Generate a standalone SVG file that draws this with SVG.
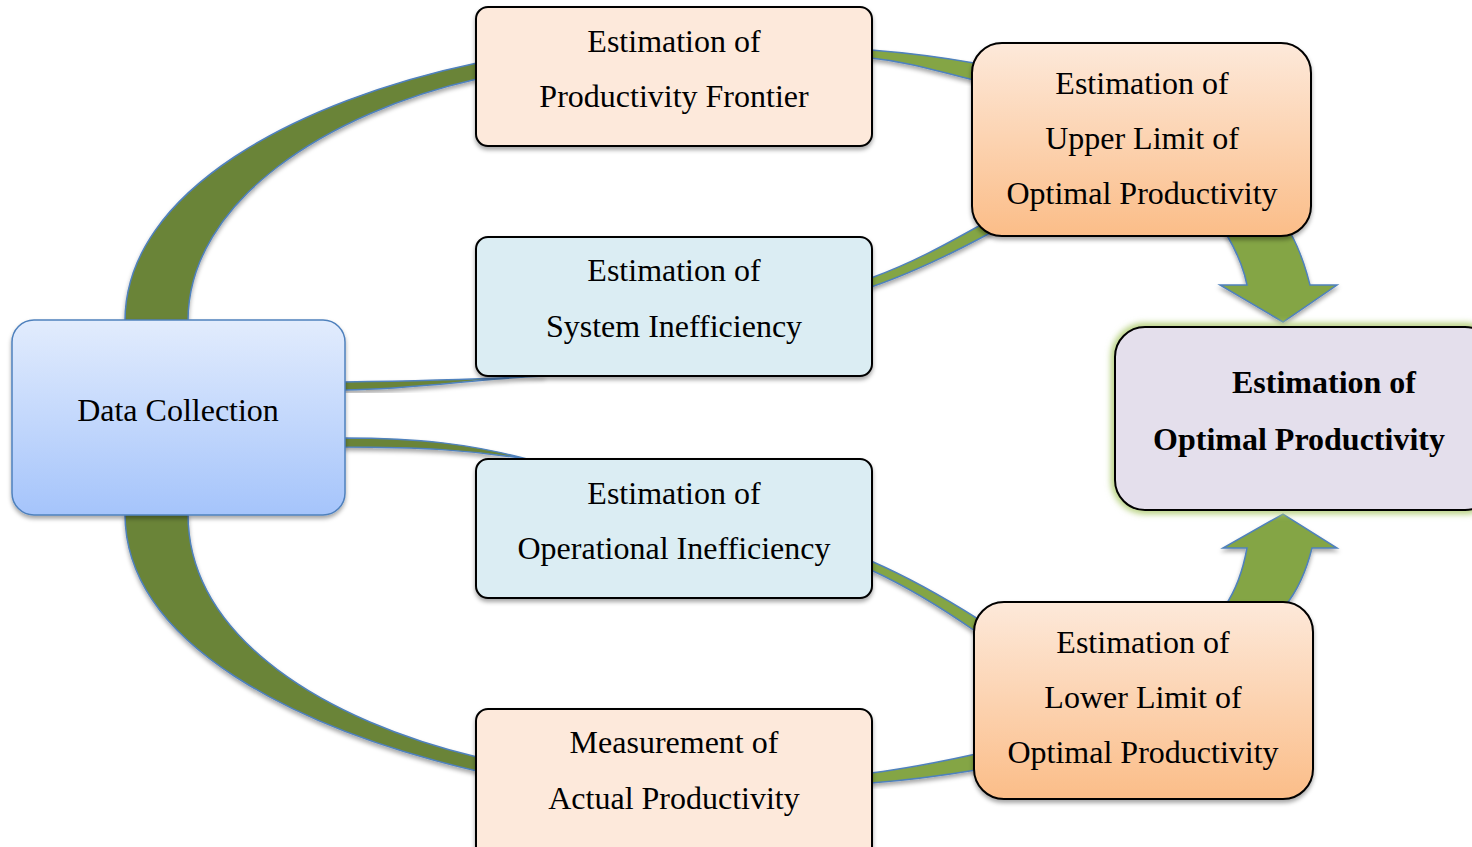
<svg xmlns="http://www.w3.org/2000/svg" width="1472" height="847" viewBox="0 0 1472 847">
  <defs>
    <linearGradient id="gBlue" x1="0" y1="0" x2="0" y2="1">
      <stop offset="0" stop-color="#e2ecfd"/>
      <stop offset="1" stop-color="#a5c4fb"/>
    </linearGradient>
    <linearGradient id="gOrange" x1="0" y1="0" x2="0" y2="1">
      <stop offset="0" stop-color="#fde9da"/>
      <stop offset="1" stop-color="#fbbd88"/>
    </linearGradient>
    <filter id="shadow" x="-10%" y="-10%" width="120%" height="130%">
      <feDropShadow dx="0" dy="3" stdDeviation="2.2" flood-color="#000" flood-opacity="0.35"/>
    </filter>
    <filter id="glow" x="-10%" y="-15%" width="120%" height="130%">
      <feGaussianBlur stdDeviation="3"/>
    </filter>
  </defs>
  <style>
    .lbl { font-family: "Liberation Serif", "Times New Roman", serif; font-size: 32px; fill: #000; text-anchor: middle; }
    .bold { font-weight: bold; font-size: 32px; }
    .box { stroke: #000; stroke-width: 2; filter: url(#shadow); }
    .peach { fill: #fde9db; }
    .cyan { fill: #dbedf3; }
    .band { fill: #6b8438; stroke: #4f81bd; stroke-width: 1.5; filter: url(#shadow); }
    .band2 { fill: #84a544; stroke: #4f81bd; stroke-width: 1.5; filter: url(#shadow); }
  </style>

  <!-- connectors -->
  <g id="connectors">
    <!-- Data Collection to Productivity Frontier -->
    <path class="band" d="M125,321 C125,190 300,100 477,63 L477,79 C330,112 188,200 188,321 Z"/>
    <!-- Data Collection to Actual Productivity -->
    <path class="band" d="M125,514 C125,645 300,730 477,771 L477,757 C330,722 188,640 188,514 Z"/>
    <!-- Data Collection to System Inefficiency -->
    <path class="band" d="M344,382 C420,381 470,380 545,376 C480,378 420,389 344,390 Z"/>
    <!-- Data Collection to Operational Inefficiency -->
    <path class="band" d="M344,438 C420,438 470,444 527,459 C470,450 420,447 344,447 Z"/>
    <!-- Productivity Frontier to Upper Limit -->
    <path class="band2" d="M871,50 C910,53 940,57 974,63 L974,80 C940,72 910,62 871,58 Z"/>
    <!-- System Inefficiency to Upper Limit -->
    <path class="band2" d="M871,278 C915,262 950,242 986,222 L992,232 C955,252 915,272 871,287 Z"/>
    <!-- Operational Inefficiency to Lower Limit -->
    <path class="band2" d="M871,561 C910,578 945,598 978,619 L975,631 C942,608 910,588 871,570 Z"/>
    <!-- Actual Productivity to Lower Limit -->
    <path class="band2" d="M871,773 C910,768 940,762 976,754 L976,770 C940,776 910,780 871,783 Z"/>
    <!-- Upper Limit down to Optimal Productivity -->
    <path class="band2" d="M1225,232 C1236,250 1243,265 1247,285 L1220,285 L1283,322 L1337,285 L1310,285 C1305,265 1300,250 1290,232 Z"/>
    <!-- Lower Limit up to Optimal Productivity -->
    <path class="band2" d="M1225,606 C1236,590 1243,570 1247,548 L1223,548 L1283,514 L1337,548 L1312,548 C1306,572 1298,590 1285,606 Z"/>
  </g>

  <g id="data-collection">
    <rect x="12" y="320" width="333" height="195" rx="22" fill="url(#gBlue)" stroke="#4f81bd" stroke-width="1.5" filter="url(#shadow)"/>
    <text class="lbl" x="178" y="421">Data Collection</text>
  </g>

  <g id="productivity-frontier">
    <rect class="box peach" x="476" y="7" width="396" height="139" rx="12"/>
    <text class="lbl" x="674" y="52">Estimation of</text>
    <text class="lbl" x="674" y="107">Productivity Frontier</text>
  </g>

  <g id="system-inefficiency">
    <rect class="box cyan" x="476" y="237" width="396" height="139" rx="12"/>
    <text class="lbl" x="674" y="281">Estimation of</text>
    <text class="lbl" x="674" y="337">System Inefficiency</text>
  </g>

  <g id="operational-inefficiency">
    <rect class="box cyan" x="476" y="459" width="396" height="139" rx="12"/>
    <text class="lbl" x="674" y="504">Estimation of</text>
    <text class="lbl" x="674" y="559">Operational Inefficiency</text>
  </g>

  <g id="actual-productivity">
    <rect class="box peach" x="476" y="709" width="396" height="150" rx="12"/>
    <text class="lbl" x="674" y="753">Measurement of</text>
    <text class="lbl" x="674" y="809">Actual Productivity</text>
  </g>

  <g id="upper-limit">
    <rect class="box" x="972" y="43" width="339" height="193" rx="30" fill="url(#gOrange)"/>
    <text class="lbl" x="1142" y="94">Estimation of</text>
    <text class="lbl" x="1142" y="149">Upper Limit of</text>
    <text class="lbl" x="1142" y="204">Optimal Productivity</text>
  </g>

  <g id="lower-limit">
    <rect class="box" x="974" y="602" width="339" height="197" rx="30" fill="url(#gOrange)"/>
    <text class="lbl" x="1143" y="653">Estimation of</text>
    <text class="lbl" x="1143" y="708">Lower Limit of</text>
    <text class="lbl" x="1143" y="763">Optimal Productivity</text>
  </g>

  <g id="optimal-productivity">
    <rect x="1115" y="327" width="380" height="183" rx="30" fill="none" stroke="#b3cf78" stroke-width="8" filter="url(#glow)"/>
    <rect x="1115" y="327" width="380" height="183" rx="30" fill="#e4dfec" stroke="#000" stroke-width="2"/>
    <text class="lbl bold" x="1324" y="393">Estimation of</text>
    <text class="lbl bold" x="1299" y="450">Optimal Productivity</text>
  </g>
</svg>
